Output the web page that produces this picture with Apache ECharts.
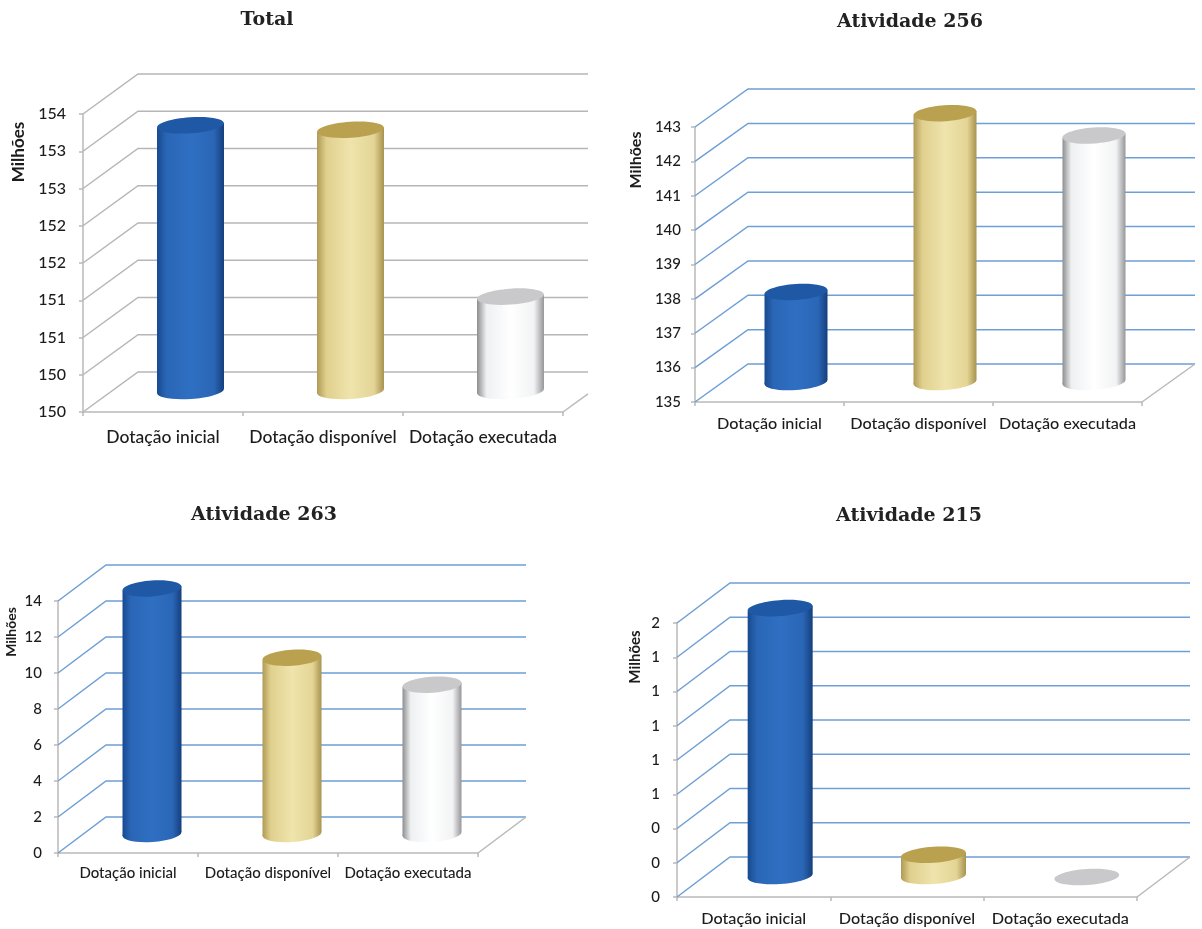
<!DOCTYPE html>
<html><head><meta charset="utf-8">
<style>html,body{margin:0;padding:0;background:#fff}#c{width:1202px;height:929px}</style>
<script src="https://cdn.jsdelivr.net/npm/echarts@6/dist/echarts.min.js"></script>
</head><body><div id="c"></div>
<script>
const categories = ['Dotação inicial', 'Dotação disponível', 'Dotação executada'];
const titles = ['Total', 'Atividade 256', 'Atividade 263', 'Atividade 215'];
const unitName = 'Milhões';

// Values (millions)
const totalValues = [153.58, 153.52, 151.28];
const a256Values = [137.65, 142.85, 142.2];
const a263Values = [13.7, 9.85, 8.35];
const a215Values = [1.57, 0.13, 0.0];

// Axis ticks and the (rounded) labels printed on them
const totalTicks = [150, 150.5, 151, 151.5, 152, 152.5, 153, 153.5, 154];
const totalLabels = ['150', '150', '151', '151', '152', '152', '153', '153', '154'];
const a256Ticks = [135, 136, 137, 138, 139, 140, 141, 142, 143];
const a256Labels = ['135', '136', '137', '138', '139', '140', '141', '142', '143'];
const a263Ticks = [0, 2, 4, 6, 8, 10, 12, 14];
const a263Labels = ['0', '2', '4', '6', '8', '10', '12', '14'];
const a215Ticks = [0, 0.2, 0.4, 0.6, 0.8, 1, 1.2, 1.4, 1.6];
const a215Labels = ['0', '0', '0', '1', '1', '1', '1', '1', '2'];

const seriesValues = [totalValues, a256Values, a263Values, a215Values];
const ticks = [totalTicks, a256Ticks, a263Ticks, a215Ticks];
const tickLabels = [totalLabels, a256Labels, a263Labels, a215Labels];
const intervals = [0.5, 1, 2, 0.2];

// Layout of each panel: front plane, depth of the 3D box, text placement
const layouts = [
  {l:83, r:563, t:114, b:412, dx:55, dy:40, wallR:588, barW:67, ry:8, cat:17.5, val:16, catM:16, valM:17, tx:267, ty:20, mx:19, my:152, ms:17, lineCol:'#b4b6b8'},
  {l:695, r:1142, t:127, b:402, dx:53, dy:38, wallR:1195, barW:63, ry:8, cat:16.2, val:15, catM:14, valM:14, tx:910, ty:22, mx:636, my:160, ms:16, lineCol:'#6e9fd6'},
  {l:58, r:478, t:601, b:853, dx:48, dy:36, wallR:526, barW:59, ry:8, cat:15, val:15, catM:13, valM:16, tx:264, ty:515, mx:11, my:632, ms:14, lineCol:'#6e9fd6'},
  {l:677, r:1137, t:623, b:897, dx:53, dy:40, wallR:1190, barW:65, ry:8, cat:16.2, val:15, catM:14, valM:17, tx:909, ty:516, mx:635, my:657, ms:15, lineCol:'#6e9fd6'}
];

const barStyles = [
  {stops:['#174a8f','#2a66b6','#2f6fc2','#2a66b6','#153f7d'], top:'#1f58a4'},
  {stops:['#b09a55','#e0d08e','#efe4ac','#e4d596','#a8924e'], top:'#b9a14f'},
  {stops:['#8e8e90','#eef0f2','#ffffff','#f2f3f4','#97979a'], top:'#c9c9cb'}
];
const axisGrey = '#b9b9b9';
const textCol = '#1c1c1c';
const uiFont = 'Lato';
const TILT = 0.07;

function gradient(stops) {
  const pos = [0, 0.14, 0.5, 0.85, 1];
  return new echarts.graphic.LinearGradient(0, 0, 1, 0, stops.map((c, i) => ({offset: pos[i], color: c})));
}

function wallItem(L) {
  return function (params, api) {
    const y = api.coord([0, api.value(0)])[1];
    const cs = params.coordSys;
    return {type: 'polyline', silent: true,
      shape: {points: [[cs.x, y], [cs.x + L.dx, y - L.dy], [L.wallR, y - L.dy]]},
      style: {stroke: L.lineCol, lineWidth: 1.5, fill: null}};
  };
}

function floorItem(L) {
  return function (params, api) {
    const cs = params.coordSys;
    const yb = cs.y + cs.height, xr = cs.x + cs.width;
    const frac = Math.min(1, (L.wallR - xr) / L.dx);
    return {type: 'line', silent: true,
      shape: {x1: xr, y1: yb, x2: xr + L.dx * frac, y2: yb - L.dy * frac},
      style: {stroke: axisGrey, lineWidth: 1.5}};
  };
}

function cylinderItem(L, base) {
  return function (params, api) {
    const i = api.value(0);
    const st = barStyles[i];
    const pTop = api.coord([i, api.value(1)]);
    const pBase = api.coord([i, base]);
    const cx = pTop[0] + L.dx / 2;
    const yT = pTop[1] - L.dy / 2, yB = pBase[1] - L.dy / 2 - 1;
    const r = L.barW / 2, d = r * TILT;
    const grad = gradient(st.stops);
    const flat = yB - yT < 1;
    const children = [];
    if (!flat) {
      children.push(
        {type: 'ellipse', silent: true, shape: {cx: cx, cy: yB, rx: r, ry: L.ry}, rotation: TILT, originX: cx, originY: yB,
          style: {fill: grad}},
        {type: 'polygon', silent: true,
          shape: {points: [[cx - r, yT + d], [cx + r, yT - d], [cx + r, yB - d], [cx - r, yB + d]]},
          style: {fill: grad}});
    }
    children.push({type: 'ellipse', silent: true, shape: {cx: cx, cy: yT, rx: r, ry: L.ry}, rotation: TILT, originX: cx, originY: yT,
      style: {fill: st.top}});
    return {type: 'group', children: children};
  };
}

const option = {
  animation: false, backgroundColor: '#fff',
  title: [], grid: [], xAxis: [], yAxis: [], series: [],
  graphic: []
};

layouts.forEach((L, p) => {
  const tk = ticks[p];
  const lo = tk[0], hi = tk[tk.length - 1];
  option.grid.push({left: L.l, top: L.t, width: L.r - L.l, height: L.b - L.t, containLabel: false});
  option.xAxis.push({gridIndex: p, type: 'category', data: categories,
    axisLine: {lineStyle: {color: axisGrey, width: 1.5}},
    axisTick: {show: true, length: 4, lineStyle: {color: axisGrey, width: 1.5}},
    axisLabel: {color: textCol, fontFamily: uiFont, fontSize: L.cat, fontWeight: 500, margin: L.catM, interval: 0},
    splitLine: {show: false}});
  option.yAxis.push({gridIndex: p, type: 'value', min: lo, max: hi, interval: intervals[p],
    axisLine: {show: true, lineStyle: {color: axisGrey, width: 1.5}},
    axisTick: {show: true, length: 4, lineStyle: {color: axisGrey, width: 1.5}},
    axisLabel: {color: textCol, fontFamily: uiFont, fontSize: L.val, fontWeight: 500, margin: L.valM,
      formatter: (v, i) => tickLabels[p][i]},
    splitLine: {show: false}});
  option.title.push({text: titles[p], left: L.tx, top: L.ty, padding: 0, textAlign: 'center', textVerticalAlign: 'middle',
    textStyle: {fontFamily: 'DejaVu Serif', fontWeight: 'bold', fontSize: 19, color: '#222'}});
  option.graphic.push({type: 'text', x: L.mx, y: L.my, rotation: Math.PI / 2,
    style: {text: unitName, font: 'bold ' + L.ms + 'px ' + uiFont, fill: textCol, textAlign: 'center', textVerticalAlign: 'middle'}});
  option.series.push({type: 'custom', xAxisIndex: p, yAxisIndex: p, z: 1, silent: true,
    renderItem: wallItem(L), data: tk.map(v => [v]), encode: {y: 0}, clip: false});
  option.series.push({type: 'custom', xAxisIndex: p, yAxisIndex: p, z: 1, silent: true,
    renderItem: floorItem(L), data: [[lo]], encode: {y: 0}, clip: false});
  option.series.push({type: 'custom', xAxisIndex: p, yAxisIndex: p, z: 3, silent: true,
    renderItem: cylinderItem(L, lo),
    data: seriesValues[p].map((v, i) => [i, v]), encode: {x: 0, y: 1}, clip: false});
});

const chart = echarts.init(document.getElementById('c'), null, {renderer: 'canvas'});
chart.setOption(option);
</script></body></html>
